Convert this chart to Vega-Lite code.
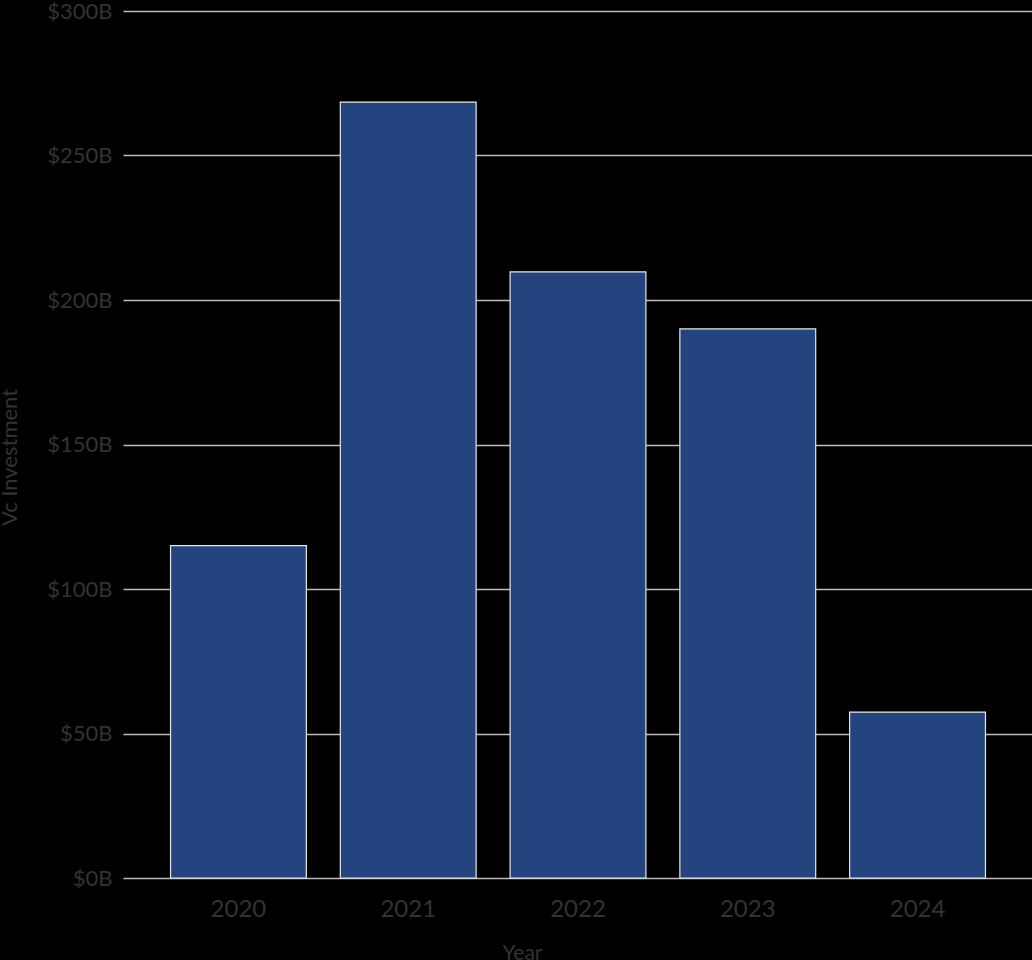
{
  "$schema": "https://vega.github.io/schema/vega-lite/v6.json",
  "width": 910,
  "height": 867,
  "autosize": {"type": "none"},
  "padding": {"left": 123, "top": 11, "right": 0, "bottom": 82},
  "background": "black",
  "config": {
    "view": {"stroke": null},
    "font": "Lato",
    "axis": {"labelColor": "#333333", "titleColor": "#333333", "labelFont": "Lato", "titleFont": "Lato", "titleFontWeight": "normal"}
  },
  "data": {"values": [
    {"Year": "2020", "Investment": 115},
    {"Year": "2021", "Investment": 268.5},
    {"Year": "2022", "Investment": 209.7},
    {"Year": "2023", "Investment": 190},
    {"Year": "2024", "Investment": 57.4}
  ]},
  "mark": {"type": "bar", "color": "#24447f", "stroke": "#e8e8e8", "strokeWidth": 1.2},
  "encoding": {
    "x": {
      "field": "Year", "type": "nominal", "title": "Year",
      "scale": {"paddingInner": 0.2, "paddingOuter": 0.28},
      "axis": {"labelAngle": 0, "labelFontSize": 24, "labelPadding": 19, "ticks": false, "domain": false, "titleFontSize": 21, "titleX": 399, "titleY": 64}
    },
    "y": {
      "field": "Investment", "type": "quantitative", "title": "Vc Investment",
      "scale": {"domain": [0, 300], "nice": false},
      "axis": {"values": [0, 50, 100, 150, 200, 250, 300], "labelExpr": "'$' + datum.value + 'B'", "labelFontSize": 22, "labelPadding": 11, "ticks": false, "domain": false, "grid": true, "gridColor": "#bbbbbb", "gridWidth": 1.3, "titleFontSize": 22, "titleX": -102, "titleY": 446}
    }
  }
}
